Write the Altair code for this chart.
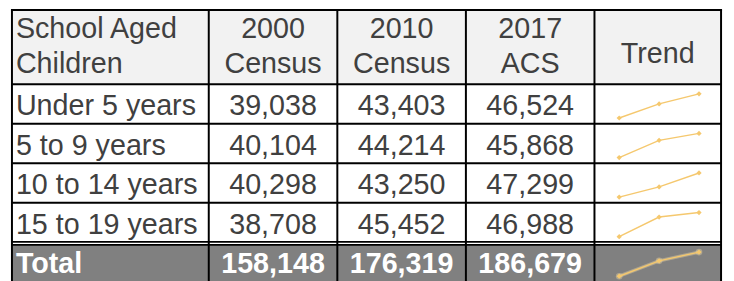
import altair as alt
import pandas as pd

# ---------------- data ----------------
HEAD_LINE1 = ["School Aged", "2000", "2010", "2017"]
HEAD_LINE2 = ["Children", "Census", "Census", "ACS"]
TREND_HEADER = "Trend"
AGE_GROUPS = ["Under 5 years", "5 to 9 years", "10 to 14 years", "15 to 19 years"]
YEARS = ["2000", "2010", "2017"]
CENSUS_2000 = [39038, 40104, 40298, 38708]
CENSUS_2010 = [43403, 44214, 43250, 45452]
ACS_2017 = [46524, 45868, 47299, 46988]
TOTAL_LABEL = "Total"
TOTALS = [158148, 176319, 186679]

# ---------------- layout ----------------
W, H = 726, 273
COL_EDGES = [4, 203, 333, 463, 593, 721]
HEADER_H = 76
ROW_H = 40
TOTAL_TOP = HEADER_H + ROW_H * len(AGE_GROUPS)  # 236
BOTTOM = TOTAL_TOP + ROW_H
FONT = "Liberation Sans"
FS = 29
TXT = "#404040"
SPARK = "#F5C86E"

def col_center(i):
    return (COL_EDGES[i] + COL_EDGES[i + 1]) / 2

XS = alt.Scale(domain=[0, W], range=[0, W])
YS = alt.Scale(domain=[0, H], range=[0, H])

# backgrounds
bg = pd.DataFrame([
    {"x": COL_EDGES[0], "x2": COL_EDGES[-1], "y": 0, "y2": HEADER_H, "fill": "#F2F2F2"},
    {"x": COL_EDGES[0], "x2": COL_EDGES[-1], "y": HEADER_H, "y2": TOTAL_TOP, "fill": "#FFFFFF"},
    {"x": COL_EDGES[0], "x2": COL_EDGES[-1], "y": TOTAL_TOP + 2, "y2": BOTTOM + 6, "fill": "#808080"},
])
bg_layer = alt.Chart(bg).mark_rect().encode(
    x=alt.X("x:Q", scale=XS, axis=None), x2="x2:Q",
    y=alt.Y("y:Q", scale=YS, axis=None), y2="y2:Q",
    color=alt.Color("fill:N", scale=None),
)

# grid lines
lines = []
for e in COL_EDGES:
    lines.append({"x": e, "x2": e, "y": 0, "y2": BOTTOM + 6, "sw": 2})
lines.append({"x": COL_EDGES[0] - 1, "x2": COL_EDGES[-1] + 1, "y": 0.5, "y2": 0.5, "sw": 2})
for i in range(len(AGE_GROUPS)):
    yy = HEADER_H + ROW_H * i - 0.5
    lines.append({"x": COL_EDGES[0], "x2": COL_EDGES[-1], "y": yy, "y2": yy, "sw": 2})
lines.append({"x": COL_EDGES[0], "x2": COL_EDGES[-1], "y": TOTAL_TOP - 1, "y2": TOTAL_TOP - 1, "sw": 1.6})
lines.append({"x": COL_EDGES[0], "x2": COL_EDGES[-1], "y": TOTAL_TOP + 2, "y2": TOTAL_TOP + 2, "sw": 1.6})
line_layer = alt.Chart(pd.DataFrame(lines)).mark_rule(color="black").encode(
    x=alt.X("x:Q", scale=XS, axis=None), x2="x2:Q",
    y=alt.Y("y:Q", scale=YS, axis=None), y2="y2:Q",
    size=alt.Size("sw:Q", scale=None),
)

# header text
ht = []
ht.append({"x": COL_EDGES[0] + 4, "y": 29, "t": HEAD_LINE1[0], "a": "left"})
ht.append({"x": COL_EDGES[0] + 4, "y": 64, "t": HEAD_LINE2[0], "a": "left"})
for i in range(1, 4):
    ht.append({"x": col_center(i), "y": 29, "t": HEAD_LINE1[i], "a": "center"})
    ht.append({"x": col_center(i), "y": 64, "t": HEAD_LINE2[i], "a": "center"})
ht.append({"x": col_center(4), "y": 54, "t": TREND_HEADER, "a": "center"})
htdf = pd.DataFrame(ht)

def text_layer(df, align, bold=False, color=TXT, fmt=None):
    enc_text = alt.Text("t:Q", format=fmt) if fmt else alt.Text("t:N")
    return alt.Chart(df).mark_text(
        align=align, baseline="alphabetic", font=FONT, fontSize=FS,
        fontWeight="bold" if bold else "normal", color=color,
    ).encode(
        x=alt.X("x:Q", scale=XS, axis=None),
        y=alt.Y("y:Q", scale=YS, axis=None),
        text=enc_text,
    )

head_left = text_layer(htdf[htdf.a == "left"], "left")
head_center = text_layer(htdf[htdf.a == "center"], "center")

# body labels
lab = pd.DataFrame([{"x": COL_EDGES[0] + 4, "y": HEADER_H + ROW_H * i + 31, "t": g}
                    for i, g in enumerate(AGE_GROUPS)])
lab_layer = text_layer(lab, "left")

nums = []
for c, series in enumerate([CENSUS_2000, CENSUS_2010, ACS_2017], start=1):
    for i, v in enumerate(series):
        nums.append({"x": col_center(c), "y": HEADER_H + ROW_H * i + 31, "t": v})
num_layer = text_layer(pd.DataFrame(nums), "center", fmt=",")

tot_lab = text_layer(pd.DataFrame([{"x": COL_EDGES[0] + 4, "y": TOTAL_TOP + 30, "t": TOTAL_LABEL}]),
                     "left", bold=True, color="white")
tot_nums = text_layer(pd.DataFrame([{"x": col_center(c + 1), "y": TOTAL_TOP + 30, "t": v}
                                    for c, v in enumerate(TOTALS)]),
                      "center", bold=True, color="white", fmt=",")

# sparklines
SPARK_X = [618, 698.7]
spark_layers = []
all_series = [[CENSUS_2000[i], CENSUS_2010[i], ACS_2017[i]] for i in range(len(AGE_GROUPS))] + [TOTALS]
for r, vals in enumerate(all_series):
    top = HEADER_H + ROW_H * r
    df = pd.DataFrame({"year": YEARS, "value": vals})
    xs = alt.Scale(type="point", domain=YEARS, range=SPARK_X, padding=0)
    ys = alt.Scale(zero=False, nice=False, range=[top + 33.7, top + 9.3])
    base = alt.Chart(df).encode(
        x=alt.X("year:O", scale=xs, axis=None),
        y=alt.Y("value:Q", scale=ys, axis=None),
    )
    if r == len(all_series) - 1:
        spark_layers.append(base.mark_line(color="#F3DDA8", strokeWidth=3.5, opacity=0.4))
        spark_layers.append(base.mark_point(shape="circle", size=45, filled=True, color="#F3DDA8", opacity=0.4))
    spark_layers.append(base.mark_line(color=SPARK, strokeWidth=1.4))
    spark_layers.append(base.mark_point(shape="diamond", size=28, filled=True, color=SPARK, opacity=1))

chart = alt.layer(
    bg_layer, line_layer, head_left, head_center, lab_layer, num_layer, tot_lab, tot_nums,
    *spark_layers,
).resolve_scale(x="independent", y="independent").properties(
    width=W, height=H, padding=0, autosize=alt.AutoSizeParams(type="none"),
).configure_view(stroke=None)

chart.save("out.html", embed_options={"renderer": "svg", "actions": False})
